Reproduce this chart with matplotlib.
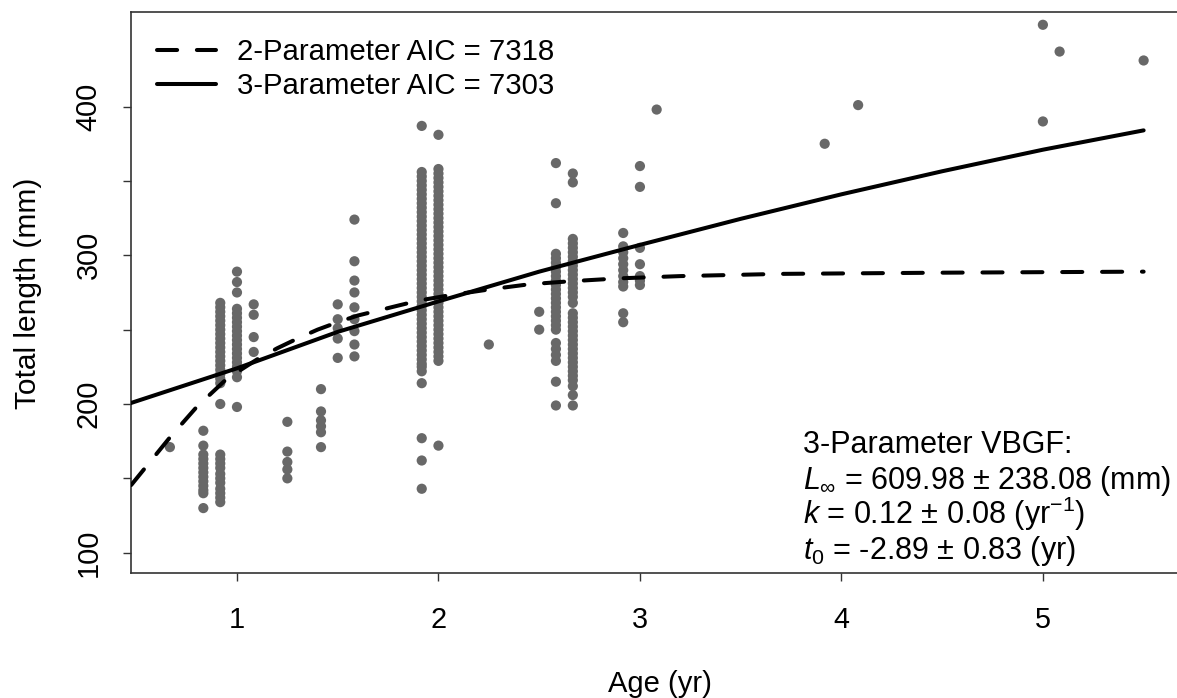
import matplotlib
matplotlib.use("Agg")
import matplotlib.pyplot as plt

plt.rcParams['font.family'] = ['Liberation Sans', 'DejaVu Sans']
plt.rcParams['mathtext.fontset'] = 'custom'
plt.rcParams['mathtext.rm'] = 'Liberation Sans'
plt.rcParams['mathtext.it'] = 'Liberation Sans:italic'
plt.rcParams['mathtext.bf'] = 'Liberation Sans:bold'

# ---------------- data ----------------
ages = [0.667, 0.833, 0.917, 0.917, 1.0, 1.083, 1.25, 1.417, 1.5, 1.583,
        1.917, 2.0, 2.25, 2.5, 2.583, 2.667, 2.917, 3.0, 3.083, 3.917,
        4.083, 5.0, 5.083, 5.5]

lengths = [
    [171],
    [182, 172, 166, 163, 160, 157, 154, 151, 148, 145, 142, 140, 130],
    [268, 265, 262, 259, 256, 253, 250, 247, 244, 241, 238, 235, 232, 229,
     226, 223, 220, 217, 214, 200],
    [166, 163, 160, 157, 153, 150, 147, 143, 140, 137, 134],
    [289, 282, 275, 264, 261, 258, 255, 252, 249, 246, 243, 240, 237, 234,
     231, 228, 225, 222, 218, 198],
    [267, 260, 245, 235],
    [188, 168, 161, 156, 150],
    [210, 195, 189, 185, 181, 171],
    [267, 257, 251, 244, 231],
    [324, 296, 283, 275, 265, 257, 249, 240, 232],
    [387, 356, 353, 350, 347, 344, 341, 338, 335, 332, 329, 326, 323, 320,
     317, 314, 311, 308, 305, 302, 299, 296, 293, 290, 287, 284, 281, 278,
     275, 272, 269, 266, 263, 260, 257, 254, 251, 248, 245, 242, 239, 236,
     233, 230, 227, 225, 222, 214, 177, 162, 143],
    [381, 358, 355, 352, 349, 346, 343, 340, 337, 334, 331, 328, 325, 322,
     319, 316, 313, 310, 307, 304, 301, 298, 295, 292, 289, 286, 283, 280,
     277, 274, 271, 268, 265, 262, 259, 256, 253, 250, 247, 244, 241, 238,
     235, 232, 229, 172],
    [240],
    [262, 250],
    [362, 335, 301, 298, 295, 292, 289, 286, 283, 280, 277, 274, 271, 268,
     265, 262, 259, 256, 253, 250, 241, 237, 233, 229, 215, 199],
    [355, 349, 311, 308, 305, 302, 299, 296, 293, 290, 287, 284, 281, 278,
     275, 272, 268, 261, 258, 255, 252, 249, 246, 243, 240, 237, 234, 231,
     228, 225, 222, 219, 216, 212, 206, 199],
    [315, 306, 302, 298, 294, 290, 286, 282, 279, 261, 255],
    [360, 346, 305, 294, 286, 283, 280],
    [398],
    [375],
    [401],
    [455, 390],
    [437],
    [431],
]

# fitted curves
fit3_age = [0.47, 1.0, 1.5, 2.0, 2.5, 3.0, 3.5, 4.0, 4.5, 5.0, 5.5]
fit3_len = [200.5, 224, 248.5, 269, 289, 307, 324.5, 341, 356.5, 371, 384]

fit2_age = [0.475, 0.55, 0.67, 0.8, 0.95, 1.1, 1.2, 1.3, 1.4, 1.5, 1.6,
            1.75, 1.9, 2.05, 2.25, 2.45, 2.65, 2.9, 3.2, 3.7, 4.5, 5.5]
fit2_len = [145.5, 158, 178, 198, 217, 230, 237.5, 244, 250, 255, 259.5,
            264.5, 269.5, 273, 277, 280.5, 282.5, 284.5, 286, 287.5, 288.3, 289]

legend_labels = ["2-Parameter AIC = 7318", "3-Parameter AIC = 7303"]
x_ticks = [1, 2, 3, 4, 5]
y_ticks = [100, 150, 200, 250, 300, 350, 400]
y_ticklabels = ["100", "", "200", "", "300", "", "400"]
param_lines = [
    "3-Parameter VBGF:",
    r"$L_{\infty}$ = 609.98 ± 238.08 (mm)",
    r"$k$ = 0.12 ± 0.08 (yr$^{-1}$)",
    r"$t_0$ = -2.89 ± 0.83 (yr)",
]

# ---------------- figure ----------------
W, H = 1177, 698
fig = plt.figure(figsize=(W / 100, H / 100), dpi=100)
ax_left, ax_right, ax_top, ax_bottom = 130.6, 1194.0, 12.0, 573.0
ax = fig.add_axes([ax_left / W, 1 - ax_bottom / H,
                   (ax_right - ax_left) / W, (ax_bottom - ax_top) / H])
ax.set_xlim(0.472, 5.75)
ax.set_ylim(86.35, 463.6)

pt_color = '#686868'
for a, ls in zip(ages, lengths):
    ax.scatter([a] * len(ls), ls, s=54, color=pt_color, edgecolors='none',
               zorder=2)

l2, = ax.plot(fit2_age, fit2_len, color='black', lw=2.9,
              dashes=(5.0, 4.9), dash_capstyle='round', zorder=3,
              label=legend_labels[0])
l3, = ax.plot(fit3_age, fit3_len, color='black', lw=2.9,
              solid_capstyle='round', zorder=3, label=legend_labels[1])

ax.set_xticks(x_ticks)
ax.set_xticklabels([str(t) for t in x_ticks])
ax.set_yticks(y_ticks)
ax.set_yticklabels(y_ticklabels, rotation=90, va='center')
ax.tick_params(axis='both', direction='out', length=6, width=1.0,
               color='#333333', labelsize=20.8)
ax.tick_params(axis='x', pad=18)
ax.tick_params(axis='y', pad=14)
for s in ax.spines.values():
    s.set_color('#333333')
    s.set_linewidth(1.2)

leg = ax.legend(handles=[l2, l3], loc='upper left', frameon=False,
                fontsize=21.2, handlelength=2.0, handletextpad=0.74,
                borderaxespad=0.535, borderpad=0.35, labelspacing=0.2)

fig.text(660 / W, 1 - 691.7 / H, "Age (yr)", ha='center', va='baseline',
         fontsize=21)
fig.text(28 / W, 1 - 293 / H, "Total length (mm)", ha='center',
         va='center', rotation=90, fontsize=21.5)

baselines = [453.3, 489.0, 524.2, 559.3]
for yb, line in zip(baselines, param_lines):
    fig.text(803 / W, 1 - yb / H, line, ha='left', va='baseline',
             fontsize=22)

fig.savefig("out.png", dpi=100)
